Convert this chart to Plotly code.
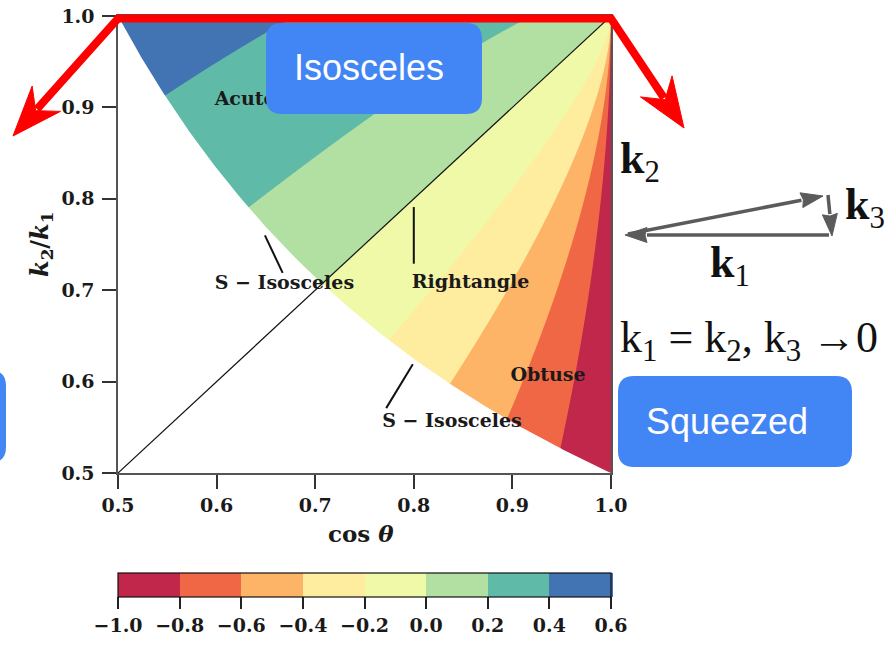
import numpy as np
import plotly.graph_objects as go

# ---- axes -------------------------------------------------------------
cos_theta_range = [0.5, 1.0]
k_ratio_range = [0.5, 1.0]
axis_ticks = [0.5, 0.6, 0.7, 0.8, 0.9, 1.0]
axis_tick_text = ["0.5", "0.6", "0.7", "0.8", "0.9", "1.0"]

# ---- cos(gamma) contour levels and Spectral band colours ---------------
levels = [-1.0, -0.8, -0.6, -0.4, -0.2, 0.0, 0.2, 0.4, 0.6]
level_text = ["\u22121.0", "\u22120.8", "\u22120.6", "\u22120.4", "\u22120.2",
              "0.0", "0.2", "0.4", "0.6"]
band_colors = ["#c0274a", "#f06745", "#fdb466", "#feec9f",
               "#eff9a7", "#b2e0a2", "#5fbba8", "#4273b3"]

# ---- right-angle line: k2/k1 = cos(theta) ------------------------------
right_angle_x = [0.5, 1.0]
right_angle_y = [0.5, 1.0]

# ---- region labels and their leader lines ------------------------------
region_labels = ["Acute", "S \u2212 Isosceles", "Rightangle",
                 "S \u2212 Isosceles", "Obtuse"]
region_x = [0.598, 0.598, 0.798, 0.768, 0.898]
region_y = [0.908, 0.706, 0.708, 0.556, 0.606]
leader_x = [[0.649, 0.667], [0.800, 0.800], [0.799, 0.772]]
leader_y = [[0.760, 0.719], [0.791, 0.729], [0.619, 0.571]]

# ---- triangle configuration field --------------------------------------
# k1 = 1, k2 = r, angle theta between them; k3 from the law of cosines.
# cos(gamma) = (k2^2 + k3^2 - k1^2) / (2 k2 k3)
n = 701
c = np.linspace(cos_theta_range[0], cos_theta_range[1], n)
r = np.linspace(k_ratio_range[0], k_ratio_range[1], n)
C, R = np.meshgrid(c, r)
k3 = np.sqrt(np.maximum(1.0 + R**2 - 2.0 * R * C, 1e-12))
cos_gamma = np.clip((R - C) / k3, -1.0, 1.0)

# allowed region is k3 <= k2, i.e. k2/k1 >= 1 / (2 cos theta)
edge_c = np.linspace(0.5, 1.0, 300)
edge_r = 1.0 / (2.0 * edge_c)
mask_x = list(edge_c) + [0.5, 0.5]
mask_y = list(edge_r) + [0.5, 1.0]

# stepwise colour scale: one flat colour per filled band
nc = len(levels)
scale = []
for k, col in enumerate(band_colors):
    lo = 0.0 if k == 0 else (k + 0.5) / nc
    hi = 1.0 if k == len(band_colors) - 1 else (k + 1.5) / nc
    scale.append([lo, col])
    scale.append([hi, col])

serif = "DejaVu Serif"
ink = "#1a1a1a"
label_font = dict(family=serif, size=19, color=ink, weight="bold")

fig = go.Figure()

fig.add_trace(go.Contour(
    x=c, y=r, z=cos_gamma,
    zmin=levels[0], zmax=levels[-1],
    contours=dict(start=levels[0], end=levels[-1], size=0.2, coloring="fill"),
    colorscale=scale,
    line=dict(width=0),
    hoverinfo="skip",
    colorbar=dict(
        orientation="h",
        x=0.0, xanchor="left", len=1.0, lenmode="fraction", xpad=0,
        y=-(573 - 473) / 457, yanchor="top", ypad=0,
        thickness=24, outlinewidth=1.2, outlinecolor="#111",
        tickmode="array", tickvals=levels, ticktext=level_text,
        ticks="outside", ticklen=12, tickwidth=2, tickcolor="#222",
        tickfont=label_font,
    ),
))

# blank out the unphysical region (k3 > k2)
fig.add_trace(go.Scatter(
    x=mask_x, y=mask_y, mode="lines", fill="toself",
    fillcolor="white", line=dict(width=0, color="white"),
    hoverinfo="skip", showlegend=False,
))

fig.add_trace(go.Scatter(
    x=right_angle_x, y=right_angle_y, mode="lines",
    line=dict(color="#111", width=1.2), hoverinfo="skip", showlegend=False,
))

for lx, ly in zip(leader_x, leader_y):
    fig.add_trace(go.Scatter(
        x=lx, y=ly, mode="lines", line=dict(color="#111", width=2),
        hoverinfo="skip", showlegend=False,
    ))

fig.add_trace(go.Scatter(
    x=region_x, y=region_y, mode="text", text=region_labels,
    textposition="middle right", textfont=label_font,
    hoverinfo="skip", showlegend=False,
))

# ---- overlay drawing helpers (pixel -> paper coordinates) -------------
PL, PR, PT, PB = 118, 611, 16, 473


def px(x):
    return (x - PL) / (PR - PL)


def py(y):
    return (PB - y) / (PB - PT)


def path(points, close=False):
    s = "M " + " L ".join(f"{px(x):.5f},{py(y):.5f}" for x, y in points)
    return s + (" Z" if close else "")


def rounded_rect(x0, y0, x1, y1, rad):
    def p(x, y):
        return f"{px(x):.5f},{py(y):.5f}"
    return (f"M {p(x0 + rad, y0)} L {p(x1 - rad, y0)} Q {p(x1, y0)} {p(x1, y0 + rad)} "
            f"L {p(x1, y1 - rad)} Q {p(x1, y1)} {p(x1 - rad, y1)} "
            f"L {p(x0 + rad, y1)} Q {p(x0, y1)} {p(x0, y1 - rad)} "
            f"L {p(x0, y0 + rad)} Q {p(x0, y0)} {p(x0 + rad, y0)} Z")


def head(start, tip, length, half, notch):
    ux, uy = tip[0] - start[0], tip[1] - start[1]
    d = (ux**2 + uy**2) ** 0.5
    ux, uy = ux / d, uy / d
    nx, ny = -uy, ux
    bx, by = tip[0] - length * ux, tip[1] - length * uy
    pts = [tip, (bx + half * nx, by + half * ny),
           (tip[0] - notch * ux, tip[1] - notch * uy),
           (bx - half * nx, by - half * ny)]
    shaft_end = (tip[0] - (notch + 2) * ux, tip[1] - (notch + 2) * uy)
    return pts, shaft_end


shapes = []
red = "#ff0000"
corner_l, corner_r = (118, 18.5), (611, 18.5)
tip_l, tip_r = (13, 136), (684, 128)
head_l, end_l = head(corner_l, tip_l, 50, 19, 34)
head_r, end_r = head(corner_r, tip_r, 50, 19, 34)
shapes.append(dict(type="path", xref="paper", yref="paper", layer="above",
                   path=path([end_l, corner_l, corner_r, end_r]),
                   line=dict(color=red, width=8)))
for hp in (head_l, head_r):
    shapes.append(dict(type="path", xref="paper", yref="paper", layer="above",
                       path=path(hp, close=True), fillcolor=red,
                       line=dict(color=red, width=1)))

gray = "#5b5b5b"
for start, tip in [((829, 235), (625, 235)),
                   ((628, 234), (823, 196)),
                   ((828, 195), (832, 236))]:
    hp, se = head(start, tip, 22, 7.5, 20)
    shapes.append(dict(type="path", xref="paper", yref="paper", layer="above",
                       path=path([start, se]), line=dict(color=gray, width=3.5)))
    shapes.append(dict(type="path", xref="paper", yref="paper", layer="above",
                       path=path(hp, close=True), fillcolor=gray,
                       line=dict(color=gray, width=1)))

blue = "#4285f4"
for box in [(266, 23, 482, 114), (618, 376, 852, 467), (-230, 370, 6, 463)]:
    shapes.append(dict(type="path", xref="paper", yref="paper", layer="above",
                       path=rounded_rect(*box, 16), fillcolor=blue,
                       line=dict(width=0)))

annotations = []


def note(text, x, y, size, family, color, xanchor="left", yanchor="middle", angle=0):
    annotations.append(dict(text=text, x=px(x), y=py(y), xref="paper", yref="paper",
                            xanchor=xanchor, yanchor=yanchor, showarrow=False,
                            textangle=angle,
                            font=dict(size=size, family=family, color=color)))


sans = "Liberation Sans"
tnr = "Liberation Serif"
note("Isosceles", 369, 68, 36, sans, "white", xanchor="center")
note("Squeezed", 727, 421, 36, sans, "white", xanchor="center")
note("<b>k</b><sub>2</sub>", 618, 162, 44, tnr, "#111")
note("<b>k</b><sub>3</sub>", 843, 207, 44, tnr, "#111")
note("<b>k</b><sub>1</sub>", 708, 265, 44, tnr, "#111")
note("k<sub>1</sub> = k<sub>2</sub>, k<sub>3</sub> \u21920", 618, 341, 44, tnr, "#111")

# axis titles
note("<b>cos <i>\u03b8</i></b>", 361, 533, 23, serif, ink, xanchor="center")
note("<b><i>k</i><sub>2</sub>/<i>k</i><sub>1</sub></b>", 41, 245, 24, serif, ink,
     xanchor="center", angle=-90)
# colour bar title
note("<b>cos <i>\u03b3</i></b>", 364, 661, 23, serif, ink, xanchor="center")

axis_common = dict(
    tickmode="array", tickvals=axis_ticks, ticktext=axis_tick_text,
    ticks="outside", ticklen=14, tickwidth=2, tickcolor="#333",
    showline=True, linecolor="#555", linewidth=1.5, mirror=True,
    showgrid=False, zeroline=False,
    tickfont=label_font,
)

fig.update_layout(
    width=885, height=656,
    margin=dict(l=PL, r=885 - PR, t=PT, b=656 - PB, autoexpand=False),
    paper_bgcolor="white", plot_bgcolor="white",
    xaxis=dict(range=cos_theta_range, **axis_common),
    yaxis=dict(range=k_ratio_range, ticklabelstandoff=4, **axis_common),
    shapes=shapes, annotations=annotations,
    showlegend=False,
)

fig.write_html("out.html")
